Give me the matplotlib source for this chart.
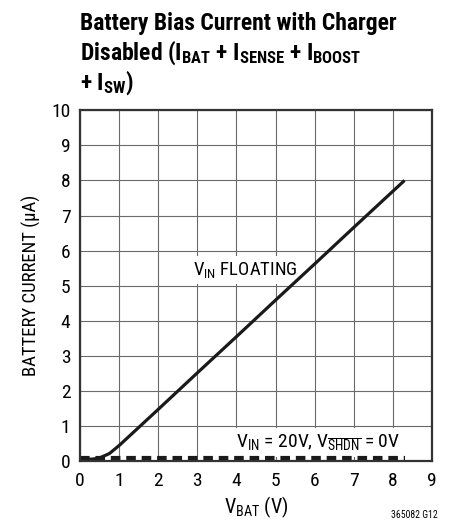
import matplotlib
matplotlib.use("Agg")
import matplotlib.pyplot as plt

FONT = "Roboto Condensed"
plt.rcParams['font.family'] = [FONT, 'DejaVu Sans']
plt.rcParams['mathtext.fontset'] = 'custom'
plt.rcParams['mathtext.rm'] = FONT
plt.rcParams['mathtext.it'] = FONT
plt.rcParams['mathtext.bf'] = FONT + ':bold'

# -------------------------
# Data
# -------------------------
vbat_float = [0.0, 0.3, 0.45, 0.55, 0.65, 0.75, 1.0, 2.0, 3.0, 4.0, 5.0, 6.0, 7.0, 8.3]
ibat_float = [0.05, 0.06, 0.08, 0.12, 0.17, 0.22, 0.45, 1.48, 2.52, 3.55, 4.59, 5.62, 6.66, 8.0]

vbat_shdn = [0.0, 8.3]
ibat_shdn = [0.08, 0.08]

x_ticks = list(range(10))
y_ticks = list(range(11))

fig = plt.figure(figsize=(4.58, 5.2), dpi=100)
ax = fig.add_axes([0.175, 0.113, 0.768, 0.675])

ax.plot(vbat_shdn, ibat_shdn, color="#1a1a1a", lw=3.0, dashes=(2.3, 1.4), zorder=3)
ax.plot(vbat_float, ibat_float, color="#1a1a1a", lw=2.3, solid_capstyle="butt", zorder=4)

ax.set_xlim(0, 9)
ax.set_ylim(0, 10)
ax.set_xticks(x_ticks)
ax.set_yticks(y_ticks)
ax.grid(True, color="#6a6a6a", lw=0.8)
ax.tick_params(length=0, labelsize=14, pad=8)
ax.tick_params(axis="y", pad=7)
for s in ax.spines.values():
    s.set_linewidth(1.6)
    s.set_color("#333333")
    s.set_zorder(5)

ax.set_xlabel(r"V$_{\mathregular{BAT}}$ (V)", fontsize=14.5, labelpad=3)
ax.set_ylabel("BATTERY CURRENT (\u00b5A)", fontsize=13.5)
ax.yaxis.set_label_coords(-0.11, 0.5)

ax.text(2.9, 5.3, r"V$_{\mathregular{IN}}$ FLOATING", fontsize=13.5,
        bbox=dict(fc="white", ec="none", pad=3), zorder=2)
ax.text(4.0, 0.4, r"V$_{\mathregular{IN}}$ = 20V, V$_{\overline{\mathregular{SHDN}}}$ = 0V",
        fontsize=14, bbox=dict(fc="white", ec="none", pad=3), zorder=2)

title_lines = [
    "Battery Bias Current with Charger",
    r"Disabled (I$_{\mathbf{BAT}}$ + I$_{\mathbf{SENSE}}$ + I$_{\mathbf{BOOST}}$",
    r"+ I$_{\mathbf{SW}}$)",
]
for i, line in enumerate(title_lines):
    fig.text(0.175, 1 - (30 + 30 * i) / 520, line, fontsize=17,
             fontweight="bold", va="baseline", ha="left")

fig.text(0.905, 0.003, "365082 G12", fontsize=7, ha="center")

fig.savefig("out.png", dpi=100)
